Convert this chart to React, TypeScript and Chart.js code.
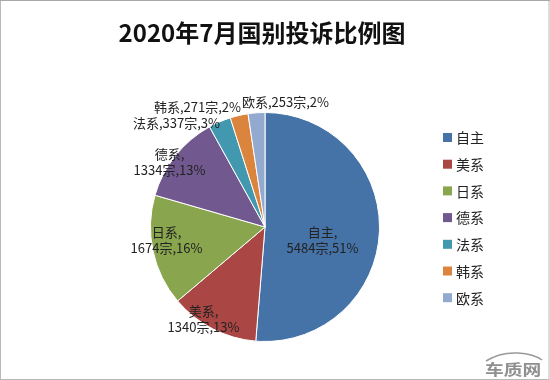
import React, { useEffect, useRef } from "react";
import { Chart, registerables } from "chart.js";

Chart.register(...registerables);

const chartTitle = "2020年7月国别投诉比例图";
const categories = ["自主", "美系", "日系", "德系", "法系", "韩系", "欧系"];
const complaints = [5484, 1340, 1674, 1334, 337, 271, 253];
const percentLabels = ["51%", "13%", "16%", "13%", "3%", "2%", "2%"];
const sliceColors = ["#4572A7", "#AA4643", "#89A54E", "#71588F", "#4198AF", "#DB843D", "#93A9CF"];

// label placement relative to pie centre, in units of the radius
const labelLayout = [
  { fx: 0.502, fy: 0.118, lines: 2 },
  { fx: -0.537, fy: 0.8, lines: 2 },
  { fx: -0.86, fy: 0.118, lines: 2 },
  { fx: -0.834, fy: -0.563, lines: 2 },
  { fx: -0.773, fy: -0.904, lines: 1 },
  { fx: -0.59, fy: -1.044, lines: 1 },
  { fx: 0.179, fy: -1.087, lines: 1 },
];

const FONT = '"Noto Sans CJK SC", "Noto Sans", sans-serif';

const decorPlugin = {
  id: "decor",
  beforeDraw(chart: any) {
    const ctx = chart.ctx;
    const w = chart.width;
    const h = chart.height;
    ctx.save();
    ctx.fillStyle = "#fff";
    ctx.fillRect(0, 0, w, h);
    ctx.restore();
  },
  afterDraw(chart: any) {
    const ctx = chart.ctx;
    const w = chart.width;
    const h = chart.height;
    ctx.save();
    // frame
    ctx.strokeStyle = "#b8b8b8";
    ctx.lineWidth = 1;
    ctx.strokeRect(0.5, 0.5, w - 1.5, h - 1);
    ctx.strokeStyle = "#a8a8a8";
    ctx.beginPath();
    ctx.moveTo(0, 0.5);
    ctx.lineTo(w, 0.5);
    ctx.stroke();

    // title
    ctx.fillStyle = "#111";
    ctx.font = `bold 24px ${FONT}`;
    ctx.textAlign = "center";
    ctx.textBaseline = "middle";
    ctx.fillText(chartTitle, 262, 33);

    // slice labels
    const meta = chart.getDatasetMeta(0);
    const first = meta.data[0];
    if (first) {
      const p = first.getProps(["x", "y", "outerRadius"], true);
      const cx = p.x, cy = p.y, r = p.outerRadius;
      ctx.font = `13px ${FONT}`;
      ctx.fillStyle = "#222";
      ctx.textAlign = "center";
      ctx.textBaseline = "middle";
      categories.forEach((cat, i) => {
        const L = labelLayout[i];
        const lx = cx + r * L.fx;
        const ly = cy + r * L.fy;
        const rest = `${complaints[i]}宗,${percentLabels[i]}`;
        if (L.lines === 2) {
          ctx.fillText(`${cat},`, lx, ly - 8);
          ctx.fillText(rest, lx, ly + 8);
        } else {
          ctx.fillText(`${cat},${rest}`, lx, ly);
        }
      });
    }

    // legend
    const lgX = 443;
    const lgY0 = 137;
    const lgStep = 26.7;
    ctx.font = `14px ${FONT}`;
    ctx.textAlign = "left";
    ctx.textBaseline = "middle";
    categories.forEach((cat, i) => {
      const y = lgY0 + i * lgStep;
      ctx.fillStyle = sliceColors[i];
      ctx.fillRect(lgX, y - 4, 9, 9);
      ctx.fillStyle = "#222";
      ctx.fillText(cat, lgX + 13, y + 1);
    });

    // watermark
    ctx.strokeStyle = "#9a9a9a";
    ctx.lineWidth = 1.5;
    ctx.beginPath();
    ctx.moveTo(486, 361);
    ctx.quadraticCurveTo(500, 352, 518, 353);
    ctx.quadraticCurveTo(534, 354, 542, 360);
    ctx.stroke();
    ctx.save();
    ctx.translate(485, 369);
    ctx.scale(1.25, 1);
    ctx.fillStyle = "#8f8f8f";
    ctx.font = `bold 15px ${FONT}`;
    ctx.textAlign = "left";
    ctx.textBaseline = "middle";
    ctx.fillText("车质网", 0, 0);
    ctx.restore();
    ctx.restore();
  },
};

export default function App() {
  const ref = useRef<HTMLCanvasElement | null>(null);
  useEffect(() => {
    if (!ref.current) return;
    const chart = new Chart(ref.current, {
      type: "pie",
      data: {
        labels: categories,
        datasets: [
          {
            data: complaints,
            backgroundColor: sliceColors,
            borderColor: "#ffffff",
            borderWidth: 1,
          },
        ],
      },
      options: {
        responsive: false,
        animation: false,
        layout: { padding: { left: 150, top: 112, right: 170, bottom: 38 } },
        plugins: {
          legend: { display: false },
          tooltip: { enabled: false },
          title: { display: false },
        },
      },
      plugins: [decorPlugin],
    });
    return () => chart.destroy();
  }, []);
  return (
    <div style={{ position: "absolute", left: 0, top: 0, width: 550, height: 380 }}>
      <canvas ref={ref} width={550} height={380} style={{ display: "block" }} />
    </div>
  );
}
